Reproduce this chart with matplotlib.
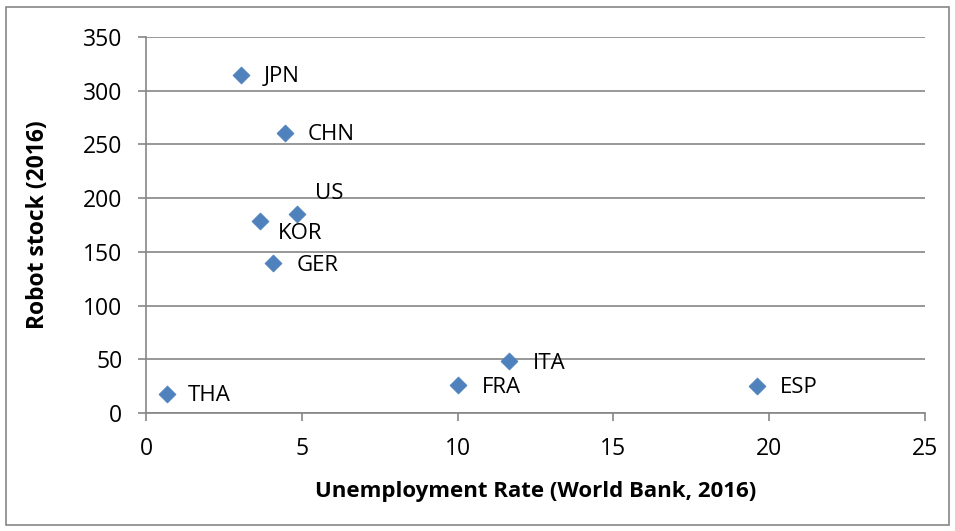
import matplotlib.pyplot as plt
from matplotlib.patches import Rectangle

countries = ["JPN", "CHN", "US", "KOR", "GER", "THA", "FRA", "ITA", "ESP"]
unemployment = [3.05, 4.46, 4.85, 3.66, 4.08, 0.67, 10.01, 11.65, 19.6]
robot_stock = [314.5, 260.5, 185.0, 179.0, 139.5, 17.5, 26.0, 48.5, 25.0]

# label offsets in points (dx, dy)
offsets = {
    "JPN": (16, -1), "CHN": (16, -1), "US": (13, 15), "KOR": (13, -9),
    "GER": (17, -2), "THA": (15, -1), "FRA": (17, -2), "ITA": (17, -2),
    "ESP": (17, -1),
}

plt.rcParams['font.family'] = ['Open Sans', 'DejaVu Sans']

fig = plt.figure(figsize=(9.55, 5.31), dpi=100, facecolor='white')
ax = fig.add_axes([0.1529, 0.2222, 0.8157, 0.7081])

ax.scatter(unemployment, robot_stock, marker='D', s=75, color='#4F81BD',
           edgecolors='#4A7EBB', linewidths=0.5, zorder=3)
for name, x, y in zip(countries, unemployment, robot_stock):
    ax.annotate(name, (x, y), xytext=offsets[name], textcoords='offset points',
                fontsize=16, va='center', ha='left', color='black')

ax.set_xlim(0, 25)
ax.set_ylim(0, 350)
ax.set_xticks(range(0, 26, 5))
ax.set_yticks(range(0, 351, 50))
ax.grid(axis='y', color='#868686', linewidth=1.2)
ax.set_axisbelow(True)
for s in ['top', 'right']:
    ax.spines[s].set_visible(False)
for s in ['left', 'bottom']:
    ax.spines[s].set_color('#868686')
    ax.spines[s].set_linewidth(1.2)
ax.tick_params(axis='both', direction='out', length=6, color='#868686',
               labelsize=16.5, width=1.2)
ax.tick_params(axis='x', pad=11)
ax.tick_params(axis='y', pad=11)

ax.set_xlabel("Unemployment Rate (World Bank, 2016)", fontsize=16, fontweight='bold', labelpad=15)
ax.set_ylabel("Robot stock (2016)", fontsize=16.5, fontweight='bold', labelpad=24)

fig.patches.append(Rectangle((6 / 955, 6 / 531), 943 / 955, 518 / 531, transform=fig.transFigure,
                             fill=False, edgecolor='#868686', linewidth=1.2))

fig.savefig("out.png", dpi=100)
